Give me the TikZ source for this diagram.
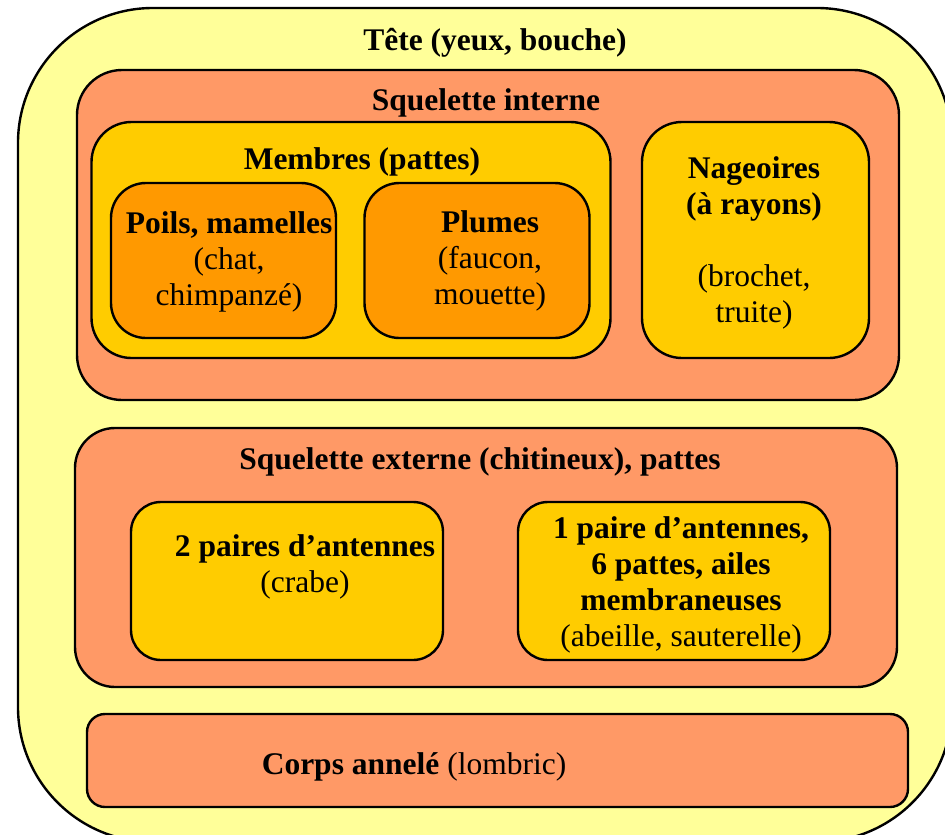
\documentclass[tikz,border=0pt]{standalone}
\usepackage{fontspec}
\setmainfont{Liberation Serif}
\definecolor{tete}{HTML}{FFFF99}
\definecolor{saumon}{HTML}{FF9966}
\definecolor{jaune}{HTML}{FFCC00}
\definecolor{orangefonce}{HTML}{FF9900}
\tikzset{
  boite/.style={draw, line width=2.4pt, rounded corners=#1, inner sep=0pt},
  texte/.style={font=\fontsize{31.5}{36}\selectfont, inner sep=0pt, align=center},
}
\begin{document}
\begin{tikzpicture}[x=1pt, y=-1pt]
\useasboundingbox (0,0) rectangle (945,835);

\node[boite=135pt, fill=tete, minimum width=934pt, minimum height=834pt] (corps) at (485,425) {};
\node[texte] (tetetxt) at (495,43) {\textbf{Tête (yeux, bouche)}};

\node[boite=45pt, fill=saumon, minimum width=822pt, minimum height=330pt] (interne) at (488,235) {};
\node[texte] (internetxt) at (486,103) {\textbf{Squelette interne}};

\node[boite=40pt, fill=jaune, minimum width=519pt, minimum height=236pt] (membres) at (351,240) {};
\node[texte] (membrestxt) at (362,162) {\textbf{Membres (pattes)}};

\node[boite=35pt, fill=orangefonce, minimum width=225pt, minimum height=155pt] (poils) at (223.5,260.5) {};
\node[texte] (poilstxt) at (229,262) {\textbf{Poils, mamelles}\\(chat,\\chimpanzé)};

\node[boite=35pt, fill=orangefonce, minimum width=225pt, minimum height=155pt] (plumes) at (477,260.5) {};
\node[texte] (plumestxt) at (490,261) {\textbf{Plumes}\\(faucon,\\mouette)};

\node[boite=40pt, fill=jaune, minimum width=227pt, minimum height=236pt] (nageoires) at (755.5,240) {};
\node[texte] (nageoirestxt) at (754,243) {\textbf{Nageoires}\\\textbf{(à rayons)}\\[36pt](brochet,\\truite)};

\node[boite=40pt, fill=saumon, minimum width=822pt, minimum height=259pt] (externe) at (486,557.5) {};
\node[texte] (externetxt) at (480,462) {\textbf{Squelette externe (chitineux), pattes}};

\node[boite=30pt, fill=jaune, minimum width=312pt, minimum height=158pt] (crabe) at (287,581) {};
\node[texte] (crabetxt) at (305,566.5) {\textbf{2 paires d’antennes}\\(crabe)};

\node[boite=30pt, fill=jaune, minimum width=312pt, minimum height=158pt] (insecte) at (674,581) {};
\node[texte] (insectetxt) at (681,585) {\textbf{1 paire d’antennes,}\\\textbf{6 pattes, ailes}\\\textbf{membraneuses}\\(abeille, sauterelle)};

\node[boite=18pt, fill=saumon, minimum width=821pt, minimum height=93pt] (annele) at (497.5,760.5) {};
\node[texte] (anneletxt) at (414,767) {\textbf{Corps annelé} (lombric)};
\end{tikzpicture}
\end{document}
